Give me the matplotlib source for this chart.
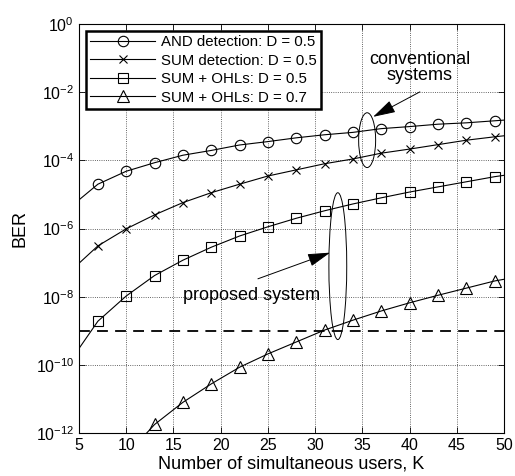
import numpy as np
import matplotlib.pyplot as plt
from matplotlib.patches import Ellipse
from matplotlib.ticker import NullLocator, FixedLocator

plt.rcParams['font.family'] = ['Liberation Sans', 'DejaVu Sans']

# number of users (5 and 50 are the curve ends, markers every 3 users)
K = [5, 7, 10, 13, 16, 19, 22, 25, 28, 31, 34, 37, 40, 43, 46, 49, 50]

# log10(BER)
and_05 = [-5.16, -4.70, -4.32, -4.07, -3.85, -3.71, -3.55, -3.45, -3.34,
          -3.25, -3.18, -3.07, -3.01, -2.94, -2.90, -2.84, -2.82]
sum_05 = [-7.02, -6.51, -6.01, -5.60, -5.24, -4.95, -4.70, -4.46, -4.28,
          -4.10, -3.96, -3.79, -3.67, -3.54, -3.41, -3.31, -3.28]
ohl_05 = [-9.52, -8.72, -7.98, -7.38, -6.93, -6.55, -6.22, -5.95, -5.70,
          -5.48, -5.28, -5.10, -4.93, -4.78, -4.63, -4.48, -4.44]
K_ohl7 = [12.17, 13, 16, 19, 22, 25, 28, 31, 34, 37, 40, 43, 46, 49, 50]
ohl_07 = [-12.0, -11.75, -11.10, -10.56, -10.07, -9.68, -9.33, -8.98, -8.69,
          -8.42, -8.18, -7.96, -7.75, -7.54, -7.49]
ber_target = 1e-9

fig = plt.figure(figsize=(5.15, 4.76), dpi=100)
ax = fig.add_axes([0.1534, 0.0903, 0.8252, 0.8593])

mk = dict(color='k', lw=0.8, mfc='none', mec='k', mew=0.8)
ax.plot(K, 10 ** np.array(and_05), marker='o', ms=7.5, markevery=range(1, 16),
        label='AND detection: D = 0.5', **mk)
ax.plot(K, 10 ** np.array(sum_05), marker='x', ms=5.5, markevery=range(1, 16),
        label='SUM detection: D = 0.5', **mk)
ax.plot(K, 10 ** np.array(ohl_05), marker='s', ms=6.5, markevery=range(1, 16),
        label='SUM + OHLs: D = 0.5', **mk)
ax.plot(K_ohl7, 10 ** np.array(ohl_07), marker='^', ms=8, markevery=range(1, 14),
        label='SUM + OHLs: D = 0.7', **mk)
ax.axhline(ber_target, color='k', lw=1.3, ls=(0, (6, 4)))

ax.set_yscale('log')
ax.set_xlim(5, 50)
ax.set_ylim(1e-12, 1e0)
ax.xaxis.set_major_locator(FixedLocator(range(5, 51, 5)))
ax.yaxis.set_major_locator(FixedLocator([10.0 ** e for e in range(-12, 1, 2)]))
ax.yaxis.set_minor_locator(NullLocator())
ax.tick_params(direction='in', top=True, right=True, labelsize=11.5, length=4,
               width=0.6)
ax.grid(True, which='major', color='k', ls=':', lw=0.6, alpha=0.8)
for s in ax.spines.values():
    s.set_linewidth(0.8)

ax.set_xlabel('Number of simultaneous users, K', fontsize=13, labelpad=2)
ax.set_ylabel('BER', fontsize=13, labelpad=5)

leg = ax.legend(loc='upper left', fontsize=10.8, frameon=True, fancybox=False,
                borderpad=0.3, labelspacing=0.3, handlelength=4.3,
                handletextpad=0.4, bbox_to_anchor=(0.0, 1.0),
                borderaxespad=0.45)
leg.get_frame().set_edgecolor('k')
leg.get_frame().set_linewidth(1.8)
leg.get_frame().set_alpha(1)

# annotations
arrow = dict(arrowstyle='-|>,head_length=1.4,head_width=0.4', color='k',
             lw=0.7, shrinkA=0, shrinkB=0)
ax.add_patch(Ellipse((0.678, 0.716), 0.040, 0.134, transform=ax.transAxes,
                     fill=False, ec='k', lw=0.7))
ax.add_patch(Ellipse((0.609, 0.408), 0.042, 0.359, transform=ax.transAxes,
                     fill=False, ec='k', lw=0.7))
ax.text(0.802, 0.894, 'conventional\nsystems', transform=ax.transAxes,
        ha='center', va='center', fontsize=13, linespacing=0.95)
ax.annotate('', xy=(0.692, 0.773), xytext=(0.802, 0.834),
            xycoords='axes fraction', textcoords='axes fraction',
            arrowprops=arrow)
ax.text(0.405, 0.335, 'proposed system', transform=ax.transAxes,
        ha='center', va='center', fontsize=13)
ax.annotate('', xy=(0.591, 0.441), xytext=(0.421, 0.377),
            xycoords='axes fraction', textcoords='axes fraction',
            arrowprops=arrow)

fig.savefig('out.png', dpi=100)
